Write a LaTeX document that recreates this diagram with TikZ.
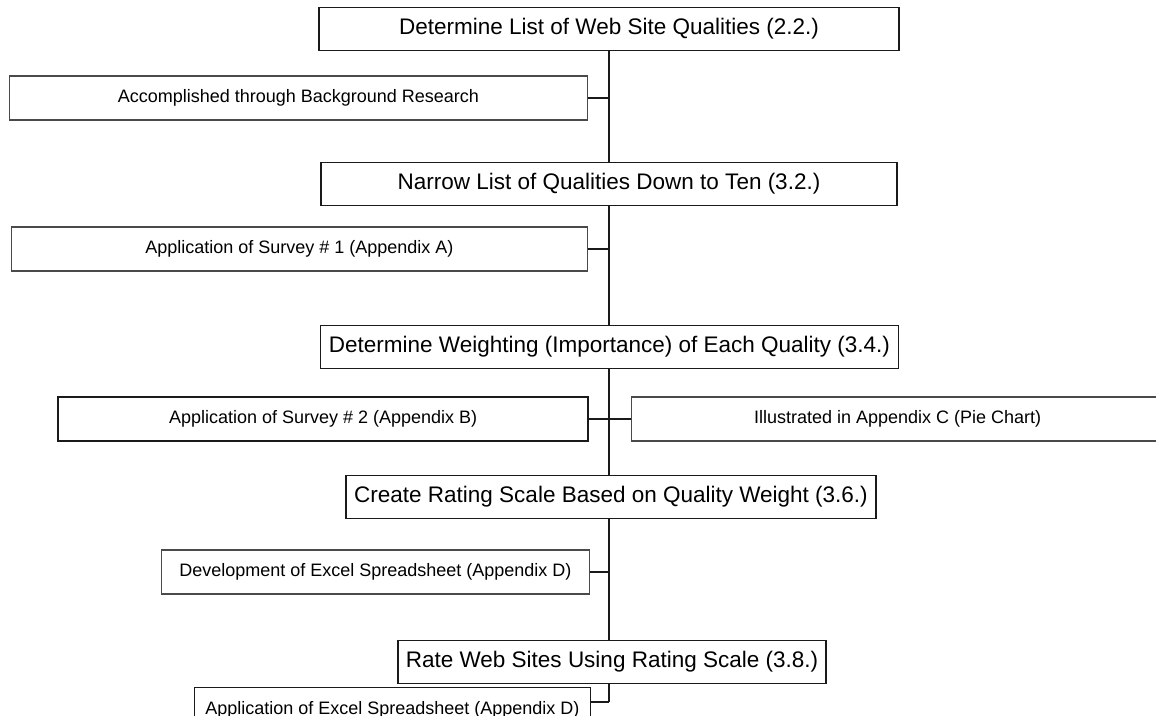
\documentclass[tikz,border=0pt]{standalone}
\usepackage{fontspec}
\setmainfont{Liberation Sans}
\usepackage{xcolor}
\usetikzlibrary{positioning}
\definecolor{ink}{HTML}{1A1A1A}
\definecolor{grey}{HTML}{4A4A4A}
\tikzset{
  mainbox/.style={draw=ink, fill=white, line width=0.9pt, inner sep=0pt,
             minimum height=21.5pt, font=\fontsize{11.25}{13}\selectfont},
  sidebox/.style={draw=grey, fill=white, line width=0.6pt, inner sep=0pt,
             minimum height=22pt, font=\fontsize{9}{11}\selectfont},
  ln/.style={ink, line width=0.8pt},
}

\begin{document}
\begin{tikzpicture}[x=0.5pt, y=-0.5pt]
\useasboundingbox (0,0) rectangle (1156,716);
% spine of main steps
\node[mainbox, minimum width=290pt] (q1) at (609,29) {Determine List of Web Site Qualities (2.2.)};
\node[mainbox, minimum width=288pt] (q2) at (609,184) {Narrow List of Qualities Down to Ten (3.2.)};
\node[mainbox, minimum width=289pt] (q3) at (609.5,347) {Determine Weighting (Importance) of Each Quality (3.4.)};
\node[mainbox, minimum width=265pt] (q4) at (611,497) {Create Rating Scale Based on Quality Weight (3.6.)};
\node[mainbox, minimum width=214pt] (q5) at (612,662) {Rate Web Sites Using Rating Scale (3.8.)};
\draw[ln] (q1.south) -- (q1.south |- q2.north);
\draw[ln] (q1.south |- q2.south) -- (q1.south |- q3.north);
\draw[ln] (q1.south |- q3.south) -- (q1.south |- q4.north);
\draw[ln] (q1.south |- q4.south) -- (q1.south |- q5.north);
\draw[ln] (q1.south |- q5.south) -- (609,702);

% side notes
\node[sidebox, minimum width=289pt, anchor=east] (bgres) at (588,98) {Accomplished through Background Research};
\node[sidebox, minimum width=288pt, anchor=east] (surv1) at (588,249) {Application of Survey \# 1 (Appendix A)};
\node[sidebox, minimum width=265pt, anchor=east, line width=0.9pt, draw=ink] (surv2) at (589,419) {Application of Survey \# 2 (Appendix B)};
\node[sidebox, minimum width=266pt, anchor=west] (piech) at (631,419) {Illustrated in Appendix C (Pie Chart)};
\node[sidebox, minimum width=214pt, anchor=east] (devxl) at (590,572) {Development of Excel Spreadsheet (Appendix D)};
\node[sidebox, minimum width=198pt, anchor=east, draw=ink, anchor=north east] (appxl) at (591,687) {\raisebox{-4pt}{Application of Excel Spreadsheet (Appendix D)}};
\draw[ln] (bgres.east) -- (bgres.east -| q1.south);
\draw[ln] (surv1.east) -- (surv1.east -| q1.south);
\draw[ln] (surv2.east) -- (piech.west);
\draw[ln] (devxl.east) -- (devxl.east -| q1.south);
\draw[ln] (appxl.north east |- 0,702) -- (609,702);
\end{tikzpicture}
\end{document}
